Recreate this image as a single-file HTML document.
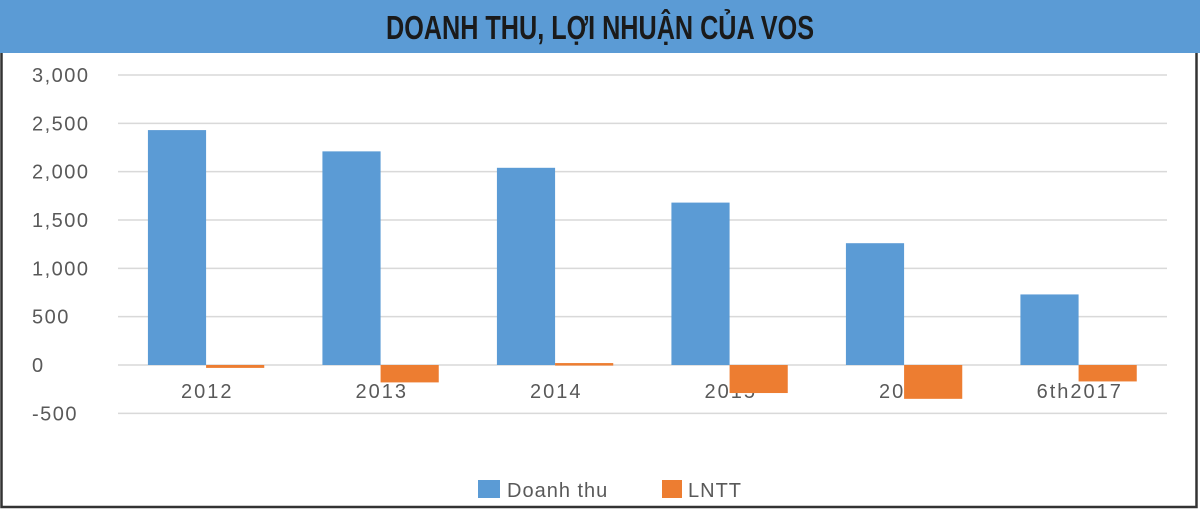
<!DOCTYPE html>
<html><head><meta charset="utf-8"><style>
html,body{margin:0;padding:0;background:#fff;}
#wrap{position:relative;width:1200px;height:510px;overflow:hidden;}
svg{display:block;}
</style></head><body>
<div id="wrap">
<svg id="chart" width="1200" height="510" xmlns="http://www.w3.org/2000/svg">
<rect x="0" y="0" width="1200" height="510" fill="#fff"/>
<rect x="1.5" y="40" width="1195" height="467" fill="none" stroke="#333" stroke-width="2.5"/>
<rect x="0" y="0" width="1200" height="53" fill="#5b9bd5"/>
<text x="600" y="39" text-anchor="middle" font-family="'Liberation Sans Narrow','Liberation Sans',sans-serif" font-weight="bold" font-size="33" fill="#1a1a1a" textLength="428" lengthAdjust="spacingAndGlyphs">DOANH THU, LỢI NHUẬN CỦA VOS</text>
<g id="grid"></g><g id="labels"></g><g id="bars"></g>
<rect x="478" y="480" width="22" height="18" fill="#5b9bd5"/>
<text x="507" y="497" font-family="'Liberation Sans',sans-serif" font-size="20" letter-spacing="1" fill="#595959">Doanh thu</text>
<rect x="662" y="480" width="20" height="18" fill="#ed7d31"/>
<text x="688" y="497" font-family="'Liberation Sans',sans-serif" font-size="20" letter-spacing="1" fill="#595959">LNTT</text>
</svg>
</div>
<script>
const categories = ["2012","2013","2014","2015","2016","6th2017"];
const doanhThu = [2430, 2210, 2040, 1680, 1260, 730];
const lntt = [-30, -180, 20, -290, -350, -170];
const yTicks = [3000, 2500, 2000, 1500, 1000, 500, 0, -500];
const yTickLabels = ["3,000","2,500","2,000","1,500","1,000","500","0","-500"];

const NS = "http://www.w3.org/2000/svg";
const x0 = 120, x1 = 1167, groupW = (x1 - x0) / categories.length;
function y(v){ return 365 - v * (290 / 3000); }
function gx(i){ return x0 + i * groupW; }
function mk(tag, attrs, parent){ const e = document.createElementNS(NS, tag); for (const k in attrs) e.setAttribute(k, attrs[k]); parent.appendChild(e); return e; }
const grid = document.getElementById('grid'), bars = document.getElementById('bars'), labels = document.getElementById('labels');

yTicks.forEach((t, i) => {
  const l = mk('line', {x1: 118, x2: x1, y1: y(t), y2: y(t), stroke: '#d9d9d9', 'stroke-width': 1.5}, grid);
  
  
  const tx = mk('text', {x: 32, y: y(t) + 7, 'font-family': "'Liberation Sans',sans-serif", 'font-size': 20, 'letter-spacing': 1.5, fill: '#595959'}, labels);
  tx.textContent = yTickLabels[i];
  
  
});
const bw = groupW / 3;
categories.forEach((c, i) => {
  const bx = gx(i) + groupW * 0.16;
  const lab = mk('text', {x: gx(i) + groupW / 2, y: 398, 'text-anchor': 'middle', 'font-family': "'Liberation Sans',sans-serif", 'font-size': 20, 'letter-spacing': 2, fill: '#595959'}, labels);
  lab.textContent = c;
  
  
  const v1 = doanhThu[i];
  const r1 = mk('rect', {x: bx, y: Math.min(y(v1), y(0)), width: bw, height: Math.abs(y(v1) - y(0)), fill: '#5b9bd5'}, bars);
  
  
  const v2 = lntt[i];
  const r2 = mk('rect', {x: bx + bw, y: Math.min(y(v2), y(0)), width: bw, height: Math.max(2.5, Math.abs(y(v2) - y(0))), fill: '#ed7d31'}, bars);
  
  
});
</script>
</body></html>
